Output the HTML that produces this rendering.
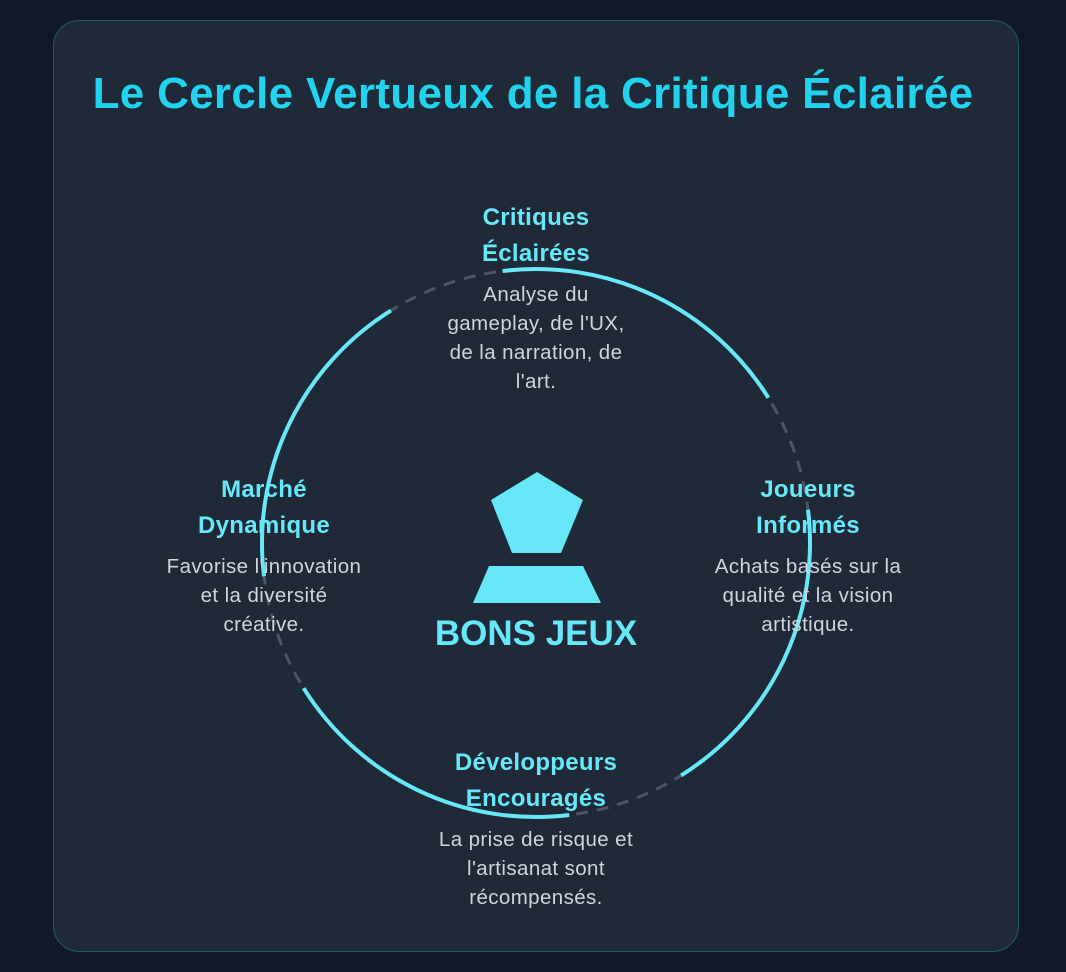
<!DOCTYPE html>
<html><head><meta charset="utf-8"><style>
html,body{margin:0;padding:0;background:#111827;width:1066px;height:972px;overflow:hidden;font-family:"Liberation Sans",sans-serif}
.card{position:absolute;left:53px;top:20px;width:964px;height:930px;background:#1f2937;border:1px solid #1e5a66;border-radius:26px}
h1{position:absolute;left:0;width:1066px;margin:0;text-align:center;color:#22d3ee;font-size:44px;font-weight:bold;line-height:46px;top:71px;letter-spacing:0.3px}
.n{position:absolute;width:260px;text-align:center}
.n .t{color:#67e8f9;font-weight:bold;font-size:24px;line-height:36px;letter-spacing:0.3px}
.n .d{color:#d1d5db;font-size:20.5px;line-height:29px;margin-top:8px;letter-spacing:0.4px}
</style></head><body>
<div class="card"></div>
<h1>Le Cercle Vertueux de la Critique Éclairée</h1>
<svg width="1066" height="972" style="position:absolute;left:0;top:0">
<circle cx="536" cy="543" r="274" fill="none" stroke="#4b5563" stroke-width="3" stroke-dasharray="12 9"/>
<circle cx="536" cy="543" r="274" fill="none" stroke="#67e8f9" stroke-width="4" stroke-dasharray="310.8 119.6" transform="rotate(263 536 543)"/>
<polygon points="537,472 583,500 561,553 512,553 491,500" fill="#67e8f9"/>
<polygon points="489,566 583,566 601,603 473,603" fill="#67e8f9"/>
<text x="536" y="645" text-anchor="middle" fill="#67e8f9" font-family="Liberation Sans" font-weight="bold" font-size="35">BONS JEUX</text>
</svg>
<div class="n" style="left:406px;top:200px"><div class="t">Critiques<br>Éclairées</div><div class="d">Analyse du<br>gameplay, de l'UX,<br>de la narration, de<br>l'art.</div></div>
<div class="n" style="left:134px;top:472px"><div class="t">Marché<br>Dynamique</div><div class="d">Favorise l'innovation<br>et la diversité<br>créative.</div></div>
<div class="n" style="left:678px;top:472px"><div class="t">Joueurs<br>Informés</div><div class="d">Achats basés sur la<br>qualité et la vision<br>artistique.</div></div>
<div class="n" style="left:406px;top:745px"><div class="t">Développeurs<br>Encouragés</div><div class="d">La prise de risque et<br>l'artisanat sont<br>récompensés.</div></div>
</body></html>
